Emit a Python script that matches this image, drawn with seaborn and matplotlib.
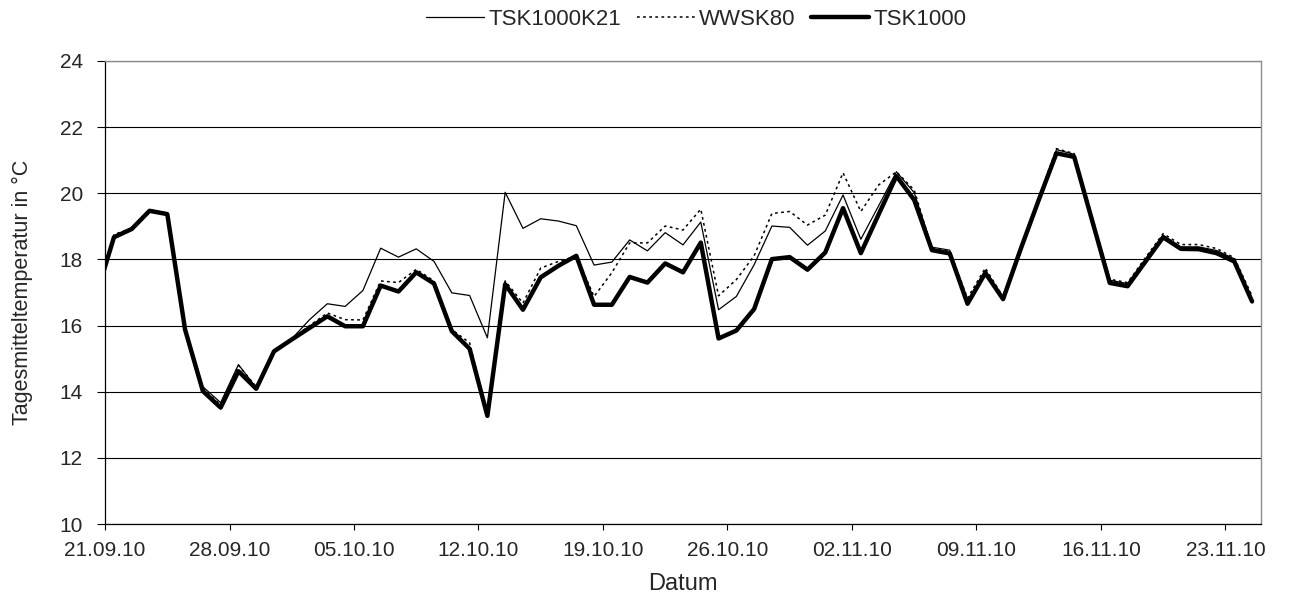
import pandas as pd
import numpy as np
import matplotlib
matplotlib.use('Agg')
import matplotlib.pyplot as plt
import matplotlib.dates as mdates
import seaborn as sns

# Tagesmittelwerte (Zeitstempel jeweils 12:00 Uhr), 20.09.2010 - 24.11.2010
dates = pd.date_range('2010-09-20 12:00', '2010-11-24 12:00', freq='D')

tsk1000k21 = [16.9, 18.72, 18.95, 19.5, 19.4, 15.95, 14.15, 13.67, 14.82, 14.12,
              15.27, 15.6, 16.18, 16.66, 16.58, 17.06, 18.34, 18.07, 18.32, 17.94,
              16.99, 16.91, 15.63, 20.03, 18.94, 19.23, 19.16, 19.02, 17.83, 17.92,
              18.59, 18.26, 18.81, 18.44, 19.13, 16.48, 16.88, 17.84, 19.01, 18.97,
              18.43, 18.86, 19.95, 18.61, 19.62, 20.65, 20.02, 18.37, 18.28, 16.75,
              17.67, 16.85, 18.4, 19.85, 21.32, 21.18, 19.25, 17.37, 17.27, 18.0,
              18.73, 18.38, 18.38, 18.27, 18.02, 16.8]

wwsk80 = [16.9, 18.75, 18.95, 19.5, 19.4, 15.95, 14.1, 13.6, 14.8, 14.15,
          15.25, 15.6, 16.0, 16.38, 16.18, 16.17, 17.35, 17.3, 17.7, 17.35,
          15.88, 15.48, 13.3, 17.35, 16.68, 17.74, 17.94, 18.1, 16.88, 17.6,
          18.5, 18.5, 19.01, 18.89, 19.52, 16.9, 17.39, 18.11, 19.39, 19.45,
          19.04, 19.34, 20.62, 19.45, 20.25, 20.65, 20.1, 18.33, 18.25, 16.83,
          17.74, 16.87, 18.4, 19.85, 21.35, 21.2, 19.3, 17.4, 17.3, 18.05,
          18.78, 18.45, 18.45, 18.33, 18.05, 16.9]

tsk1000 = [16.9, 18.67, 18.92, 19.47, 19.37, 15.88, 14.02, 13.52, 14.62, 14.09,
           15.22, 15.58, 15.93, 16.28, 15.98, 15.98, 17.21, 17.03, 17.61, 17.27,
           15.83, 15.3, 13.27, 17.25, 16.48, 17.46, 17.81, 18.11, 16.63, 16.63,
           17.47, 17.3, 17.88, 17.61, 18.51, 15.61, 15.85, 16.5, 18.01, 18.07,
           17.69, 18.21, 19.55, 18.19, 19.36, 20.52, 19.8, 18.28, 18.18, 16.66,
           17.59, 16.8, 18.33, 19.79, 21.21, 21.1, 19.19, 17.29, 17.19, 17.93,
           18.67, 18.32, 18.31, 18.19, 17.94, 16.73]

x_ticks = pd.date_range('2010-09-21', '2010-11-23', freq='7D')

sns.set_style('white')
plt.rcParams['font.family'] = ['Liberation Sans', 'DejaVu Sans']

fig = plt.figure(figsize=(12.97, 5.98), dpi=100)
ax = fig.add_axes([0.081, 0.1237, 0.8912, 0.7743])

sns.lineplot(x=dates, y=tsk1000k21, ax=ax, color='black', linewidth=0.9,
             label='TSK1000K21')
sns.lineplot(x=dates, y=wwsk80, ax=ax, color='black', linewidth=1.1,
             linestyle=(0, (1.8, 2.2)), label='WWSK80')
sns.lineplot(x=dates, y=tsk1000, ax=ax, color='black', linewidth=3.2,
             label='TSK1000')

# Achsen
ax.set_xlim(pd.Timestamp('2010-09-21'), pd.Timestamp('2010-11-25'))
ax.set_ylim(10, 24)
ax.set_yticks(np.arange(10, 25, 2))
ax.set_xticks(x_ticks)
ax.xaxis.set_major_formatter(mdates.DateFormatter('%d.%m.%y'))

ax.grid(axis='y', color='black', linewidth=0.8)
ax.grid(axis='x', visible=False)
ax.set_axisbelow(True)

for side in ['left', 'bottom']:
    ax.spines[side].set_color('black')
    ax.spines[side].set_linewidth(0.9)
for side in ['top', 'right']:
    ax.spines[side].set_color('#8c8c8c')
    ax.spines[side].set_linewidth(1.0)

ax.tick_params(axis='x', direction='out', length=4.5, width=0.8,
               color='black', labelsize=15, pad=8, bottom=True)
ax.tick_params(axis='y', direction='out', length=6, width=0.8,
               color='black', labelsize=15, pad=10, left=True)

ax.set_xlabel('Datum', fontsize=17, labelpad=9)
ax.set_ylabel('Tagesmitteltemperatur in °C', fontsize=15.5, labelpad=19)

# Legende oben
handles, labels = ax.get_legend_handles_labels()
ax.get_legend().remove()
fig.legend(handles, labels, loc='center', bbox_to_anchor=(0.537, 0.968),
           ncol=3, frameon=False, fontsize=16, handlelength=2.6,
           handletextpad=0.2, columnspacing=0.7)

plt.savefig('out.png', dpi=100)
